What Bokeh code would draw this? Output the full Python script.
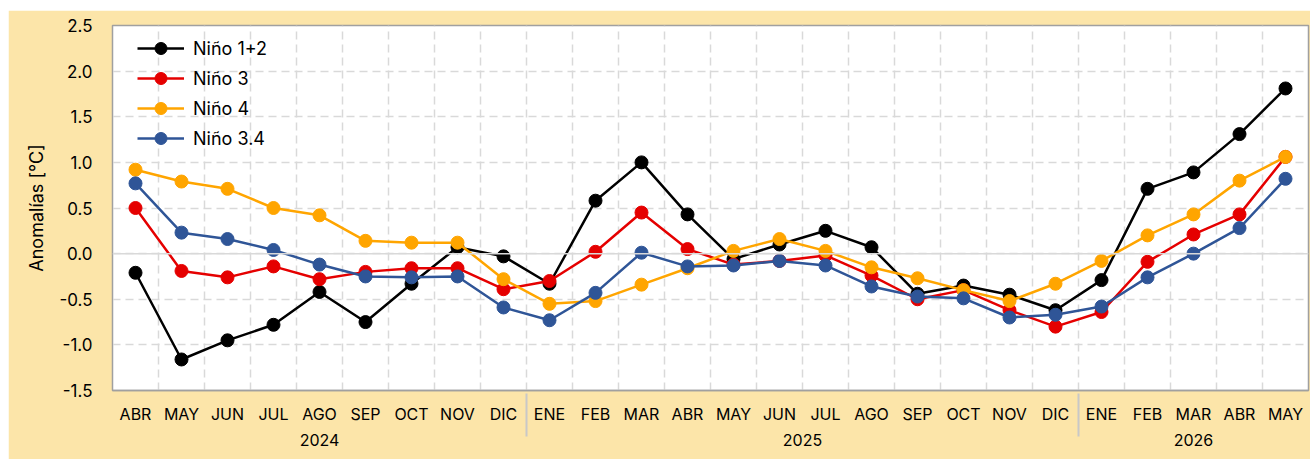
from bokeh.plotting import figure
from bokeh.models import (FactorRange, FixedTicker, NumeralTickFormatter, Span,
                          Legend, LegendItem, ColumnDataSource, Range1d)
from bokeh.embed import file_html
from bokeh.resources import INLINE

years = ["2024"] * 9 + ["2025"] * 12 + ["2026"] * 5
months = ["ABR", "MAY", "JUN", "JUL", "AGO", "SEP", "OCT", "NOV", "DIC",
          "ENE", "FEB", "MAR", "ABR", "MAY", "JUN", "JUL", "AGO", "SEP", "OCT", "NOV", "DIC",
          "ENE", "FEB", "MAR", "ABR", "MAY"]

nino12 = [-0.21, -1.16, -0.95, -0.78, -0.42, -0.75, -0.33, 0.07, -0.03,
          -0.33, 0.58, 1.00, 0.43, -0.06, 0.10, 0.25, 0.07, -0.44, -0.35, -0.45, -0.62,
          -0.29, 0.71, 0.89, 1.31, 1.81]
nino3 = [0.50, -0.19, -0.26, -0.14, -0.28, -0.20, -0.16, -0.16, -0.39,
         -0.30, 0.02, 0.45, 0.05, -0.12, -0.08, -0.02, -0.24, -0.50, -0.40, -0.62, -0.80,
         -0.64, -0.09, 0.21, 0.43, 1.06]
nino4 = [0.92, 0.79, 0.71, 0.50, 0.42, 0.14, 0.12, 0.12, -0.28,
         -0.55, -0.52, -0.34, -0.16, 0.03, 0.16, 0.03, -0.15, -0.27, -0.40, -0.52, -0.33,
         -0.08, 0.20, 0.43, 0.80, 1.06]
nino34 = [0.77, 0.23, 0.16, 0.04, -0.12, -0.25, -0.26, -0.25, -0.59,
          -0.73, -0.43, 0.01, -0.14, -0.13, -0.08, -0.13, -0.36, -0.47, -0.49, -0.70, -0.67,
          -0.58, -0.26, 0.00, 0.28, 0.82]

series_names = ["Niño 1+2", "Niño 3", "Niño 4", "Niño 3.4"]
series_values = [nino12, nino3, nino4, nino34]
series_colors = ["#000000", "#E50000", "#FFA500", "#2F5597"]

y_ticks = [-1.5, -1.0, -0.5, 0.0, 0.5, 1.0, 1.5, 2.0, 2.5]

FONT = "Inter"
BEIGE = "#FCE5A9"
GRID = "#D9D9D9"

factors = list(zip(years, months))
x_range = FactorRange(*factors, group_padding=0, factor_padding=0, range_padding=0)

p = figure(width=1302, height=449, x_range=x_range, y_range=Range1d(-1.5, 2.5),
           output_backend="svg", toolbar_location=None, margin=(10, 0, 0, 8),
           min_border_left=104, min_border_right=2, min_border_top=15, min_border_bottom=69)

p.border_fill_color = BEIGE
p.background_fill_color = "white"
p.outline_line_color = "#A0A0A0"
p.outline_line_width = 1.5

# grids
p.xgrid.ticker = FixedTicker(ticks=list(range(1, len(factors))))
p.xgrid.grid_line_color = GRID
p.xgrid.grid_line_dash = "8 5"
p.xgrid.grid_line_width = 1.5
p.ygrid.ticker = FixedTicker(ticks=y_ticks)
p.ygrid.grid_line_color = GRID
p.ygrid.grid_line_dash = "8 5"
p.ygrid.grid_line_width = 1.5
p.add_layout(Span(location=0, dimension="width", line_color=GRID, line_width=1.5))

# y axis
p.yaxis.ticker = FixedTicker(ticks=y_ticks)
p.yaxis.formatter = NumeralTickFormatter(format="0.0")
p.yaxis.major_tick_line_color = None
p.yaxis.minor_tick_line_color = None
p.yaxis.axis_line_color = "#A0A0A0"
p.yaxis.major_label_standoff = 14
p.yaxis.major_label_text_font = FONT
p.yaxis.major_label_text_font_size = "17px"
p.yaxis.major_label_text_color = "#000000"
p.yaxis.axis_label = "Anomalías [°C]"
p.yaxis.axis_label_text_font = FONT
p.yaxis.axis_label_text_font_size = "18px"
p.yaxis.axis_label_text_font_style = "normal"
p.yaxis.axis_label_text_color = "#000000"
p.yaxis.axis_label_standoff = 9

# x axis
p.xaxis.major_tick_line_color = None
p.xaxis.minor_tick_line_color = None
p.xaxis.axis_line_color = "#A0A0A0"
p.xaxis.axis_line_width = 1.5
p.xaxis.major_label_text_font = FONT
p.xaxis.major_label_text_font_size = "16px"
p.xaxis.major_label_text_color = "#000000"
p.xaxis.major_label_standoff = 7
p.xaxis.group_text_font = FONT
p.xaxis.group_text_font_size = "16px"
p.xaxis.group_text_font_style = "normal"
p.xaxis.group_text_color = "#000000"
p.xaxis.separator_line_color = "#C8C8C8"
p.xaxis.separator_line_width = 2

items = []
for name, vals, col in zip(series_names, series_values, series_colors):
    src = ColumnDataSource(dict(x=factors, y=vals))
    r1 = p.line("x", "y", source=src, line_color=col, line_width=2.5)
    r2 = p.scatter("x", "y", source=src, size=13, fill_color=col, line_color=col)
    items.append(LegendItem(label=name, renderers=[r1, r2]))

legend = Legend(items=items, location=(25, 237), margin=0, padding=0,
                glyph_width=47, glyph_height=30, label_height=20, spacing=0,
                label_standoff=9, label_text_font=FONT, label_text_font_size="18px",
                label_text_color="#000000",
                background_fill_alpha=0, border_line_color=None)
p.add_layout(legend)

open("out.html", "w").write(file_html(p, INLINE))
